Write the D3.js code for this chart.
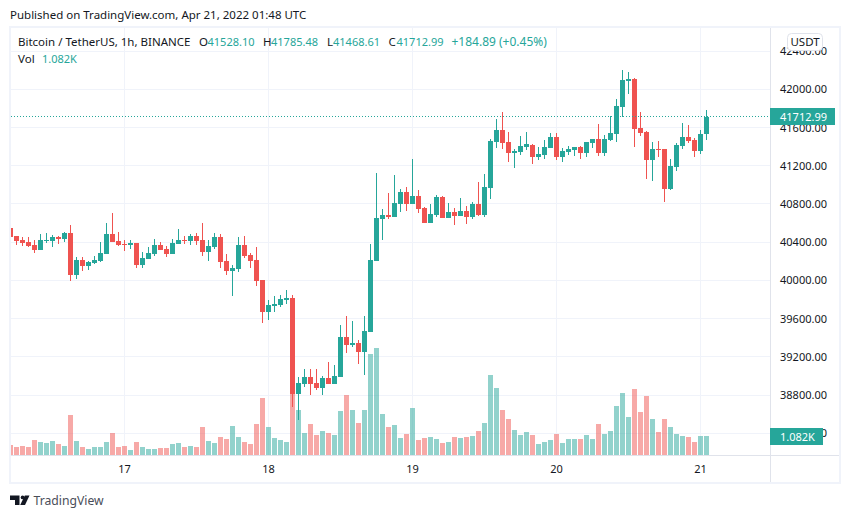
<!DOCTYPE html>
<html>
<head>
<meta charset="utf-8">
<script src="https://cdn.jsdelivr.net/npm/d3@7"></script>
<style>
  html, body { margin: 0; padding: 0; background: #fff; }
  text { font-family: "Noto Sans", sans-serif; font-size: 11.5px; fill: #131722; }
  .domain { display: none; }
</style>
</head>
<body>
<svg id="chart" width="850" height="518"></svg>
<script>
const UP = "#26a69a";
const DOWN = "#ef5350";
const GRID = "#f0f3fa";
const AXIS_LINE = "#e0e3eb";
const DIGIT_SIZE = "11px";

// BTCUSDT 1h bars, first one is Apr 16 05:00 UTC
const firstBar = Date.UTC(2022, 3, 16, 5);
const opens = [40545,40465,40423,40402,40371,40318,40412,40412,40454,40433,40496,40057,40214,40151,40182,40203,40276,40486,40412,40381,40371,40392,40161,40224,40276,40371,40329,40276,40381,40423,40412,40465,40423,40297,40350,40454,40203,40099,40120,40371,40266,40214,40004,39670,39732,39743,39795,39816,38812,38916,38989,38927,38874,38979,38916,38989,39408,39324,39345,39251,39460,40203,40643,40684,40664,40800,40925,40800,40883,40758,40601,40684,40873,40653,40716,40674,40726,40664,40800,40684,40967,41448,41574,41448,41333,41344,41396,41417,41291,41312,41386,41501,41291,41344,41365,41396,41333,41438,41480,41333,41469,41532,41815,42087,42108,41595,41553,41260,41375,41375,40957,41187,41407,41501,41469,41354,41528.10];
const highs = [40545,40465,40454,40454,40423,40486,40496,40475,40465,40507,40580,40245,40245,40203,40256,40402,40601,40705,40507,40423,40423,40392,40297,40350,40433,40402,40360,40433,40538,40465,40486,40496,40601,40423,40496,40486,40276,40161,40454,40465,40287,40350,40004,39795,39837,39847,39900,39847,38989,39073,39073,39073,39000,39146,39115,39534,39628,39575,39377,39628,40381,41124,40747,40915,41103,40957,40978,41271,40946,40768,40800,40894,40883,40810,40758,40862,40779,40821,41030,41114,41480,41689,41762,41553,41375,41511,41553,41427,41396,41469,41543,41543,41386,41407,41396,41407,41448,41480,41637,41522,41721,41898,42202,42181,42118,41762,41564,41448,41459,41375,41271,41438,41647,41626,41490,41574,41785.48];
const lows = [40381,40371,40360,40350,40287,40318,40392,40350,40381,40402,39994,40015,40099,40109,40172,40193,40276,40402,40360,40308,40329,40130,40130,40224,40256,40318,40245,40276,40381,40381,40371,40371,40256,40203,40329,40130,40057,39837,40088,40235,40130,39942,39554,39586,39670,39722,39753,38675,38539,38885,38801,38853,38801,38916,38916,38989,39241,39303,39125,39010,39460,40203,40423,40643,40664,40716,40726,40800,40705,40601,40601,40664,40653,40653,40580,40674,40590,40643,40674,40664,40852,41386,41375,41239,41176,41312,41365,41218,41260,41271,41386,41260,41239,41312,41302,41271,41291,41386,41302,41302,41459,41448,41710,41951,41396,41511,41061,41040,41291,40821,40946,41145,41375,41438,41291,41323,41468.61];
const closes = [40458,40416,40392,40360,40318,40423,40423,40454,40433,40496,40057,40214,40151,40193,40214,40287,40486,40402,40371,40371,40392,40161,40235,40287,40371,40318,40276,40392,40423,40412,40465,40412,40297,40360,40454,40193,40099,40130,40371,40256,40203,39994,39670,39743,39753,39806,39816,38811,38927,38989,38916,38874,38979,38916,39000,39408,39324,39345,39251,39471,40214,40653,40684,40664,40810,40925,40800,40883,40747,40601,40695,40873,40653,40716,40674,40726,40664,40800,40681,40978,41459,41574,41438,41333,41354,41407,41427,41291,41323,41396,41501,41291,41354,41375,41396,41333,41448,41480,41333,41480,41543,41825,42097,42108,41584,41543,41260,41375,41365,40957,41197,41417,41501,41459,41354,41532,41712.99];
const volumes = [578,466,522,466,858,746,690,802,634,522,2257,802,466,354,466,466,746,1250,466,522,298,746,466,354,354,410,410,634,690,466,522,466,1586,802,690,1026,914,1642,1026,746,634,1754,3209,1586,970,858,746,3731,2537,1250,1754,1138,1362,1250,1138,2481,3377,2537,1810,2537,5671,6007,2313,1586,1698,970,1194,2649,858,970,1026,914,690,746,1026,970,1026,1082,1362,1810,4496,3768,2537,2033,1418,1138,1306,1138,634,746,858,1194,690,914,914,914,1138,914,1754,1194,1362,2761,3489,2145,3712,2425,3321,2033,1306,2033,1586,1194,1082,1026,746,1082,1082];

const priceTicks = [42400,42000,41600,41200,40800,40400,40000,39600,39200,38800,38400];
const lastPrice = 41712.99;
const lastVolume = 1082;
const lastVolumeLabel = "1.082K";

const plot = { left: 11, right: 770, top: 28, bottom: 455 };
const hour = 3600000;

const x = d3.scaleUtc()
    .domain([firstBar, firstBar + (opens.length - 1) * hour])
    .range([10.5, 706.5]);
const y = d3.scaleLinear().domain([38800, 42400]).range([395.05, 51.15]);
const yVol = d3.scaleLinear().domain([0, lastVolume]).range([455.3, 436]);

const barX = i => x(firstBar + i * hour);
const crisp = v => Math.floor(v) + 0.5;

const svg = d3.select("#chart");

svg.append("defs").append("clipPath").attr("id", "plot-clip")
  .append("rect")
    .attr("x", plot.left).attr("y", plot.top)
    .attr("width", plot.right - plot.left)
    .attr("height", plot.bottom - plot.top);

// Grid
const dayTicks = d3.utcDay.range(new Date(firstBar), new Date(firstBar + 117 * hour));
const grid = svg.append("g").attr("shape-rendering", "crispEdges");
grid.selectAll(".gy").data(priceTicks).join("line")
    .attr("x1", plot.left).attr("x2", plot.right)
    .attr("y1", d => crisp(y(d))).attr("y2", d => crisp(y(d)))
    .attr("stroke", GRID);
grid.selectAll(".gx").data(dayTicks).join("line")
    .attr("x1", d => crisp(x(d))).attr("x2", d => crisp(x(d)))
    .attr("y1", plot.top).attr("y2", plot.bottom)
    .attr("stroke", GRID);

const marks = svg.append("g").attr("clip-path", "url(#plot-clip)").attr("shape-rendering", "crispEdges");

// Volume
marks.append("g").selectAll("rect").data(volumes).join("rect")
    .attr("x", (d, i) => Math.floor(barX(i)) - 2)
    .attr("width", 5)
    .attr("y", d => yVol(d))
    .attr("height", d => yVol(0) - yVol(d))
    .attr("fill", (d, i) => closes[i] >= opens[i] ? UP : DOWN)
    .attr("fill-opacity", 0.5);

// Candles
const candles = marks.append("g").selectAll("g").data(opens).join("g")
    .attr("fill", (d, i) => closes[i] >= opens[i] ? UP : DOWN);
candles.append("rect")
    .attr("x", (d, i) => Math.floor(barX(i)))
    .attr("width", 1)
    .attr("y", (d, i) => Math.round(y(highs[i])))
    .attr("height", (d, i) => Math.max(1, Math.round(y(lows[i])) - Math.round(y(highs[i]))));
candles.append("rect")
    .attr("x", (d, i) => Math.floor(barX(i)) - 2)
    .attr("width", 5)
    .attr("y", (d, i) => Math.round(y(Math.max(opens[i], closes[i]))))
    .attr("height", (d, i) => Math.max(1, Math.round(y(Math.min(opens[i], closes[i]))) - Math.round(y(Math.max(opens[i], closes[i])))));

// Last price line
svg.append("line")
    .attr("x1", plot.left).attr("x2", plot.right)
    .attr("y1", crisp(y(lastPrice))).attr("y2", crisp(y(lastPrice)))
    .attr("stroke", UP)
    .attr("stroke-dasharray", "1 2");

// Frame and axis lines
const frame = svg.append("g").attr("shape-rendering", "crispEdges").attr("fill", "none");
frame.append("line").attr("x1", 770.5).attr("x2", 770.5).attr("y1", 27).attr("y2", 483).attr("stroke", AXIS_LINE);
frame.append("line").attr("x1", 10).attr("x2", 840).attr("y1", 455.5).attr("y2", 455.5).attr("stroke", AXIS_LINE);
frame.append("rect").attr("x", 10).attr("y", 27).attr("width", 830).attr("height", 456)
    .attr("stroke", GRID).attr("stroke-width", 2);

// Axes
svg.append("g")
    .attr("transform", "translate(780,0.5)")
    .call(d3.axisRight(y).offset(0).tickValues(priceTicks).tickFormat(d3.format(".2f")).tickSize(0).tickPadding(0));
svg.append("g")
    .attr("transform", "translate(0,465)")
    .call(d3.axisBottom(x).offset(0).tickValues(dayTicks).tickFormat(d3.utcFormat("%-d")).tickSize(0).tickPadding(0));
svg.selectAll(".tick text").style("font-size", DIGIT_SIZE).style("font-family", "'Noto Sans', sans-serif").attr("fill", "#131722");

// USDT button
svg.append("rect")
    .attr("x", 787.5).attr("y", 33.5).attr("width", 35).attr("height", 17).attr("rx", 4)
    .attr("fill", "#fff").attr("stroke", AXIS_LINE);
svg.append("text").attr("x", 805).attr("y", 46).attr("text-anchor", "middle").text("USDT");

// Last value labels
function valueTag(tagY, w, label) {
  svg.append("rect").attr("x", 770).attr("y", tagY - 8.5).attr("width", w).attr("height", 17)
      .attr("fill", UP).attr("rx", 1).attr("shape-rendering", "crispEdges");
  svg.append("text").attr("x", 780).attr("y", tagY + 4.5).style("fill", "#fff").style("font-size", DIGIT_SIZE).text(label);
}
valueTag(116.5, 65, d3.format(".2f")(lastPrice));
valueTag(436.5, 53, lastVolumeLabel);

// Header and legend
svg.append("text").attr("x", 10).attr("y", 19).text("Published on TradingView.com, Apr 21, 2022 01:48 UTC");

const legendRow = [
  ["Bitcoin / TetherUS, 1h, BINANCE", 18, "#131722", "11.5px"],
  ["O", 199, "#131722", "11.5px"], ["41528.10", 207.5, UP, DIGIT_SIZE],
  ["H", 263, "#131722", "11.5px"], ["41785.48", 271, UP, DIGIT_SIZE],
  ["L", 327, "#131722", "11.5px"], ["41468.61", 333, UP, DIGIT_SIZE],
  ["C", 388.5, "#131722", "11.5px"], ["41712.99", 396.5, UP, DIGIT_SIZE],
  ["+184.89 (+0.45%)", 451.5, UP, "12px"]
];
svg.append("g").selectAll("text").data(legendRow).join("text")
    .attr("x", d => d[1]).attr("y", 46)
    .style("fill", d => d[2]).style("font-size", d => d[3]).text(d => d[0]);
svg.append("text").attr("x", 18).attr("y", 63).text("Vol");
svg.append("text").attr("x", 42).attr("y", 63).style("fill", UP).style("font-size", DIGIT_SIZE).text(lastVolumeLabel);

// TradingView mark
const logo = svg.append("g").attr("fill", "#131722");
logo.append("path").attr("d", "M10 495.5H19.5V505H15V500H10Z");
logo.append("circle").attr("cx", 22.6).attr("cy", 497.4).attr("r", 1.9);
logo.append("path").attr("d", "M24.8 495.5H29.5L25 505H20.2Z");
svg.append("text").attr("x", 33.5).attr("y", 505).style("font-size", "12.2px").style("fill", "#4a4e59").text("TradingView");
</script>
</body>
</html>
